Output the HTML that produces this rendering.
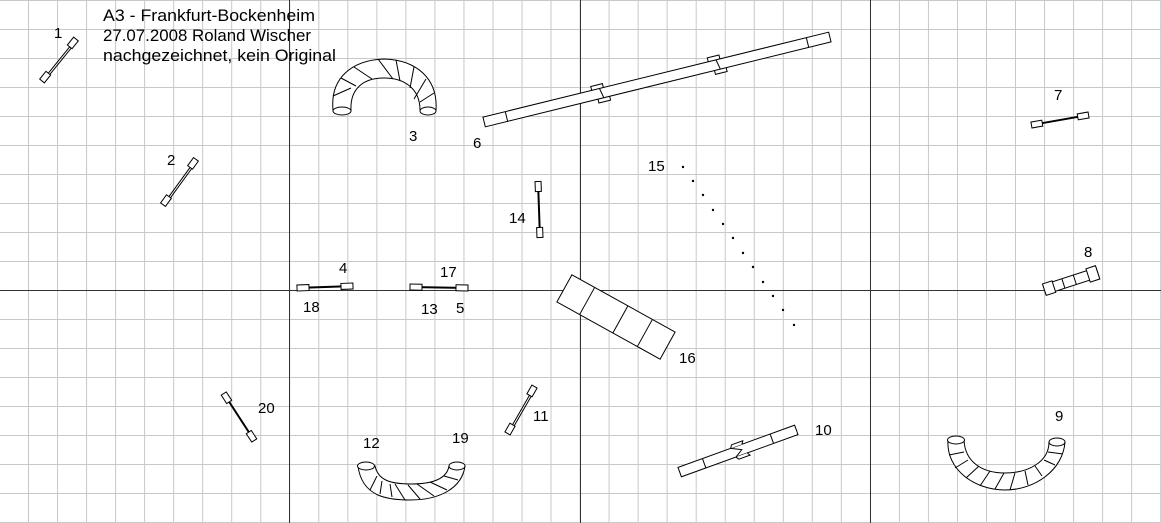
<!DOCTYPE html>
<html><head><meta charset="utf-8"><style>
html,body{margin:0;padding:0;background:#fff}
svg{display:block}
text{font-family:"Liberation Sans",sans-serif;font-size:15px;fill:#000}
.t{font-size:17px}
</style></head><body>
<svg width="1161" height="523" viewBox="0 0 1161 523" xmlns="http://www.w3.org/2000/svg">
<defs>
<pattern id="g" x="28" y="0" width="29.03" height="29" patternUnits="userSpaceOnUse">
<path d="M0.5 0V29M0 0.5H29.03" stroke="#c8c8c8" stroke-width="1" fill="none"/>
</pattern>
</defs>
<rect width="1161" height="523" fill="#fff"/>
<rect width="1161" height="523" fill="url(#g)"/>
<g stroke="#333" stroke-width="1">
<line x1="289.5" y1="0" x2="289.5" y2="523"/>
<line x1="580.5" y1="0" x2="580.5" y2="523"/>
<line x1="870.5" y1="0" x2="870.5" y2="523"/>
<line x1="0" y1="290.5" x2="1161" y2="290.5"/>
</g>
<text class="t" x="103" y="21" textLength="212" lengthAdjust="spacingAndGlyphs">A3 - Frankfurt-Bockenheim</text>
<text class="t" x="103" y="41" textLength="208" lengthAdjust="spacingAndGlyphs">27.07.2008 Roland Wischer</text>
<text class="t" x="103" y="61" textLength="233" lengthAdjust="spacingAndGlyphs">nachgezeichnet, kein Original</text>

<g fill="#fff" stroke="#000" stroke-width="1">
<g transform="translate(59,60) rotate(-51)"><line x1="-21" y1="0" x2="21" y2="0"/><line x1="-21" y1="2" x2="21" y2="2"/><rect x="-27" y="-3" width="10" height="6"/><rect x="17" y="-3" width="10" height="6"/></g>
<g transform="translate(179.5,182) rotate(-54)"><line x1="-22" y1="0" x2="22" y2="0"/><line x1="-22" y1="2" x2="22" y2="2"/><rect x="-28" y="-3" width="10" height="6"/><rect x="18" y="-3" width="10" height="6"/></g>
<g transform="translate(325,287) rotate(-2)"><line x1="-22" y1="0" x2="22" y2="0" stroke-width="2"/><rect x="-28" y="-3" width="12" height="6"/><rect x="16" y="-3" width="12" height="6"/></g>
<g transform="translate(439,287.5) rotate(1)"><line x1="-22" y1="0" x2="22" y2="0" stroke-width="2"/><rect x="-29" y="-3" width="12" height="6"/><rect x="17" y="-3" width="12" height="6"/></g>
<g transform="translate(539,209.5) rotate(88)"><line x1="-21" y1="0" x2="21" y2="0" stroke-width="2"/><rect x="-28" y="-3" width="10" height="6"/><rect x="18" y="-3" width="10" height="6"/></g>
<g transform="translate(1060,120) rotate(-10)"><line x1="-22" y1="0" x2="22" y2="0" stroke-width="2"/><rect x="-29" y="-3" width="11" height="6"/><rect x="18" y="-3" width="11" height="6"/></g>
<g transform="translate(521,410) rotate(-60)"><line x1="-20" y1="0" x2="20" y2="0"/><line x1="-20" y1="2" x2="20" y2="2"/><rect x="-27" y="-3" width="10" height="6"/><rect x="17" y="-3" width="10" height="6"/></g>
<g transform="translate(239,417) rotate(57)"><line x1="-21" y1="0" x2="21" y2="0" stroke-width="2"/><rect x="-28" y="-3" width="10" height="6"/><rect x="18" y="-3" width="10" height="6"/></g>
<g transform="translate(1071,281) rotate(-18)"><rect x="-28" y="-5" width="56" height="10"/><rect x="-28" y="-6" width="10" height="12"/><rect x="18" y="-7" width="10" height="14"/><line x1="-8" y1="-5" x2="-8" y2="5"/><line x1="4" y1="-5" x2="4" y2="5"/></g>

<g transform="translate(657,79.5) rotate(-13.8)">
<rect x="-66" y="-9" width="12" height="6"/><rect x="-62" y="3" width="12" height="6"/>
<rect x="54" y="-9" width="12" height="6"/><rect x="58" y="3" width="12" height="6"/>
<rect x="-178" y="-5" width="356" height="10"/>
<line x1="-155" y1="-5" x2="-155" y2="5"/><line x1="155" y1="-5" x2="155" y2="5"/>
<line x1="-58" y1="-5" x2="-56" y2="5"/><line x1="62" y1="-5" x2="64" y2="5"/>
</g>
<g transform="translate(738,451) rotate(-19.9)">
<rect x="-62" y="-5" width="124" height="10"/>
<line x1="-36" y1="-5" x2="-36" y2="5"/><line x1="36" y1="-5" x2="36" y2="5"/>
<path d="M-6 -5 L-4 -8 L8 -8 L6 -5 M-4 5 L-2 8 L10 8 L8 5 M-6 -5 L4 0 L-4 5"/>
</g>
<g transform="translate(616,317) rotate(29)">
<rect x="-59" y="-15.5" width="118" height="31"/>
<line x1="-33" y1="-15.5" x2="-33" y2="15.5"/><line x1="5" y1="-15.5" x2="5" y2="15.5"/><line x1="33" y1="-15.5" x2="33" y2="15.5"/>
</g>

<path d="M333 110 C330 78 352 60 384 59 C416 60 438 78 436 110 L420 110 C420 90 406 78 384 78 C362 78 350 90 351 110 Z"/>
<ellipse cx="342" cy="111" rx="9" ry="4"/><ellipse cx="428" cy="111" rx="8" ry="4"/>
<path d="M333 96 L351 88 M341 78 L356 86 M354 67 L372 79 M378 59 L393 79 M396 60 L400 81 M414 67 L410 88 M426 79 L414 99 M434 93 L420 102" fill="none"/>
<path d="M358 466 C362 498 390 500 410 500 C440 500 462 488 465 466 L449 466 C447 478 434 484 411 484 C390 484 378 480 375 466 Z"/>
<ellipse cx="366" cy="466" rx="8.5" ry="4"/><ellipse cx="457" cy="466" rx="8" ry="4"/>
<path d="M370 490 L377 476 M380 494 L382 481 M392 497 L390 484 M405 500 L395 484 M420 499 L408 485 M434 496 L417 484 M447 490 L430 482 M458 480 L444 476" fill="none"/>
<path d="M948 440 C946 470 975 490 1005 490 C1035 490 1063 470 1065 442 L1049 442 C1049 462 1028 473 1005 473 C982 473 965 462 964 440 Z"/>
<ellipse cx="956" cy="440" rx="8.5" ry="4"/><ellipse cx="1057" cy="442" rx="8" ry="4"/>
<path d="M949 455 L964 452 M955 468 L968 460 M966 478 L979 466 M980 486 L990 471 M995 489 L1004 473 M1010 490 L1015 473 M1028 485 L1025 471 M1042 476 L1035 466 M1055 465 L1044 460 M1063 454 L1048 452" fill="none"/>
</g>

<g fill="#000">
<circle cx="683" cy="167" r="1.2"/><circle cx="693" cy="181" r="1.2"/><circle cx="703" cy="195" r="1.2"/><circle cx="713" cy="210" r="1.2"/><circle cx="723" cy="224" r="1.2"/><circle cx="733" cy="238" r="1.2"/><circle cx="743" cy="253" r="1.2"/><circle cx="753" cy="267" r="1.2"/><circle cx="763" cy="282" r="1.2"/><circle cx="773" cy="296" r="1.2"/><circle cx="783" cy="310" r="1.2"/><circle cx="794" cy="325" r="1.2"/>
</g>

<text x="54" y="38">1</text>
<text x="167" y="165">2</text>
<text x="409" y="141">3</text>
<text x="339" y="273">4</text>
<text x="456" y="313">5</text>
<text x="473" y="148">6</text>
<text x="1054" y="100">7</text>
<text x="1084" y="257">8</text>
<text x="1055" y="421">9</text>
<text x="815" y="435">10</text>
<text x="533" y="421">11</text>
<text x="363" y="448">12</text>
<text x="421" y="314">13</text>
<text x="509" y="223">14</text>
<text x="648" y="171">15</text>
<text x="679" y="363">16</text>
<text x="440" y="277">17</text>
<text x="303" y="312">18</text>
<text x="452" y="443">19</text>
<text x="258" y="413">20</text>
</svg>
</body></html>
